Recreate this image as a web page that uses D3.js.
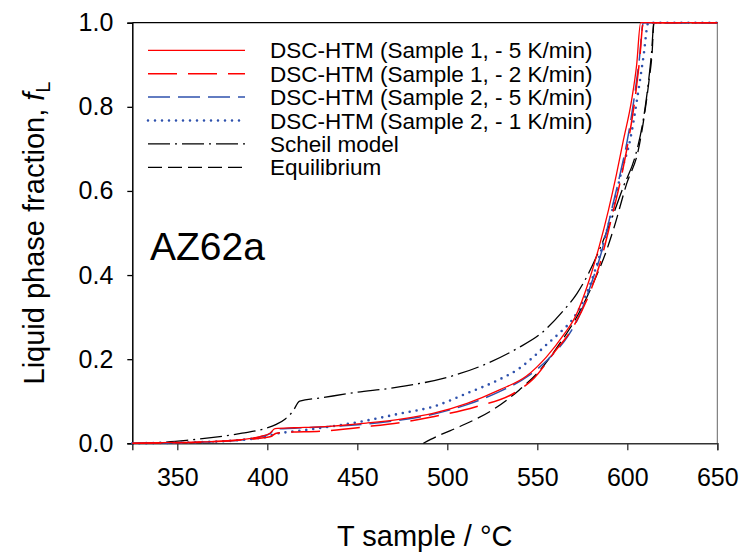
<!DOCTYPE html>
<html>
<head>
<meta charset="utf-8">
<script src="https://cdn.jsdelivr.net/npm/d3@7"></script>
<style>
  html, body { margin: 0; padding: 0; background: #fff; }
  svg { display: block; font-family: "Liberation Sans", Arial, sans-serif; }
</style>
</head>
<body>
<svg id="chart" width="744" height="552"></svg>
<script>
// ---------- data (T sample / °C, liquid fraction fL) ----------
const xTicks = [350, 400, 450, 500, 550, 600, 650];
const yTicks = [0, 0.2, 0.4, 0.6, 0.8, 1.0];

const seriesNames = [
  "DSC-HTM (Sample 1, - 5 K/min)",
  "DSC-HTM (Sample 1, - 2 K/min)",
  "DSC-HTM (Sample 2, - 5 K/min)",
  "DSC-HTM (Sample 2, - 1 K/min)",
  "Scheil model",
  "Equilibrium"
];

const s1_5K = [[325,0],[340,0.0015],[360,0.003],[377,0.006],[390,0.011],[396,0.016],[401.5,0.024],[404.3,0.035],[415,0.037],[429,0.039],[455,0.048],[475,0.058],[492,0.071],[511,0.095],[529,0.127],[544,0.16],[555,0.205],[565,0.26],[571,0.3],[579,0.39],[584.5,0.47],[589.5,0.554],[594,0.64],[597.8,0.72],[602.4,0.816],[605.2,0.9],[607.4,1],[650,1]];
const s1_2K = [[325,0],[345,0.001],[365,0.003],[380,0.006],[392,0.01],[398,0.013],[402,0.016],[405,0.024],[410,0.026],[430,0.029],[455,0.0395],[475,0.05],[492,0.063],[516,0.087],[537,0.119],[548,0.154],[559,0.214],[570,0.277],[579,0.356],[585,0.43],[591.5,0.54],[596.5,0.63],[600.2,0.71],[604,0.81],[606.8,0.91],[608.9,1],[650,1]];
const s2_5K = [[325,0],[345,0.001],[365,0.003],[380,0.006],[392,0.011],[397,0.016],[401.5,0.023],[404.5,0.034],[415,0.036],[430,0.039],[455,0.046],[475,0.056],[492,0.069],[511,0.092],[529,0.123],[545,0.16],[556,0.2],[567,0.255],[573,0.3],[580,0.38],[586,0.46],[591,0.55],[596,0.64],[600,0.72],[603.8,0.82],[606.6,0.91],[608.9,1],[650,1]];
const s2_1K = [[325,0],[345,0.001],[365,0.003],[380,0.006],[392,0.011],[400,0.016],[404,0.022],[410,0.026],[420,0.031],[437,0.041],[455,0.054],[474,0.071],[492,0.087],[511,0.119],[529,0.152],[540,0.178],[548,0.206],[555,0.234],[563,0.265],[570,0.297],[577,0.352],[582,0.41],[587,0.48],[592,0.56],[597,0.65],[601.5,0.72],[605.5,0.82],[609,0.92],[611.7,1],[650,1]];
const scheil = [[325,0],[340,0.002],[355,0.007],[370,0.014],[386,0.024],[398,0.034],[405,0.045],[410,0.058],[414,0.075],[418,0.1],[430,0.108],[446,0.119],[474,0.1345],[501,0.158],[520,0.186],[539,0.226],[552,0.261],[564,0.313],[572,0.356],[578,0.4],[585,0.465],[590.4,0.523],[597.8,0.61],[604.3,0.681],[608.5,0.76],[611.5,0.85],[613.5,0.93],[614.8,1],[650,1]];
const equil = [[486.7,0],[495,0.018],[507,0.04],[525,0.079],[540,0.127],[551.5,0.174],[562.6,0.238],[572,0.301],[581,0.38],[588.5,0.459],[592.2,0.507],[599.7,0.618],[606.1,0.697],[609.5,0.78],[612,0.86],[613.8,0.93],[614.8,1],[650,1]];

// ---------- layout ----------
const svg = d3.select("#chart");
const x = d3.scaleLinear().domain([325, 650]).range([132.3, 717.3]);
const y = d3.scaleLinear().domain([0, 1]).range([443.3, 22.7]);

const styles = [
  {data: s1_5K, color: "#ff0000", width: 1.3, dash: null, cap: "butt"},
  {data: s1_2K, color: "#ff0000", width: 1.5, dash: "29,11", cap: "butt"},
  {data: s2_5K, color: "#2f52ad", width: 1.5, dash: "22,8", cap: "butt"},
  {data: s2_1K, color: "#2f52ad", width: 2.6, dash: "0,7", cap: "round"},
  {data: scheil, color: "#000000", width: 1.3, dash: "22,5,2,5", cap: "butt"},
  {data: equil, color: "#000000", width: 1.3, dash: "14,6", cap: "butt"}
];

// frame: top + right
svg.append("line").attr("x1", x(325)).attr("x2", x(650)).attr("y1", y(1)).attr("y2", y(1))
  .attr("stroke", "#000").attr("stroke-width", 1.3);
svg.append("line").attr("x1", x(650)).attr("x2", x(650)).attr("y1", y(1)).attr("y2", y(0))
  .attr("stroke", "#666").attr("stroke-width", 1);

// axes
const xAxis = d3.axisBottom(x).tickValues(xTicks).tickSizeOuter(0).tickSize(7).tickPadding(18).tickFormat(d3.format("d"));
const gx = svg.append("g").attr("transform", `translate(0,${y(0)})`).call(xAxis);
gx.selectAll("text").attr("font-size", 25).attr("fill", "#000").attr("font-family", "Liberation Sans, Arial, sans-serif");
gx.select(".domain").attr("stroke", "#333").attr("stroke-width", 1.5);
gx.selectAll(".tick line").attr("stroke", "#333").attr("stroke-width", 1.3);

const yAxis = d3.axisLeft(y).tickValues(yTicks).tickSizeOuter(0).tickSize(5).tickPadding(14).tickFormat(d3.format(".1f"));
const gy = svg.append("g").attr("transform", `translate(${x(325)},0)`).call(yAxis);
gy.selectAll("text").attr("font-size", 25).attr("fill", "#000").attr("font-family", "Liberation Sans, Arial, sans-serif");
gy.select(".domain").attr("stroke", "#000").attr("stroke-width", 1.5);
gy.selectAll(".tick line").attr("stroke", "#000").attr("stroke-width", 1.3);

// curves (draw red last)
const line = d3.line().x(d => x(d[0])).y(d => y(d[1])).curve(d3.curveMonotoneX);
const order = [5, 4, 3, 2, 1, 0];
order.forEach(i => {
  const s = styles[i];
  svg.append("path").datum(s.data).attr("d", line)
    .attr("fill", "none").attr("stroke", s.color).attr("stroke-width", s.width)
    .attr("stroke-dasharray", s.dash).attr("stroke-linecap", s.cap).attr("stroke-linejoin", "round");
});

// legend
const legX1 = 148, legX2 = 245, legTextX = 270, legY0 = 58.3, legDy = 23.4;
seriesNames.forEach((name, i) => {
  const s = styles[i];
  const by = legY0 + i * legDy;
  svg.append("line").attr("x1", legX1).attr("x2", legX2).attr("y1", by - 8).attr("y2", by - 8)
    .attr("stroke", s.color).attr("stroke-width", s.width).attr("stroke-dasharray", s.dash)
    .attr("stroke-linecap", s.cap);
  svg.append("text").attr("x", legTextX).attr("y", by).attr("font-size", 22.5).attr("fill", "#000").text(name);
});

// annotation
svg.append("text").attr("x", 150).attr("y", 260).attr("font-size", 39).attr("fill", "#000").text("AZ62a");

// axis titles
svg.append("text").attr("x", (x(325) + x(650)) / 2).attr("y", 546).attr("text-anchor", "middle")
  .attr("font-size", 29).attr("fill", "#000").text("T sample / °C");

const yt = svg.append("text").attr("transform", `translate(44,${(y(0) + y(1)) / 2}) rotate(-90)`)
  .attr("text-anchor", "middle").attr("font-size", 29).attr("fill", "#000");
yt.append("tspan").text("Liquid phase fraction, ");
yt.append("tspan").attr("font-style", "italic").text("f");
yt.append("tspan").attr("font-size", 20).attr("dy", 6).text("L");
</script>
</body>
</html>
